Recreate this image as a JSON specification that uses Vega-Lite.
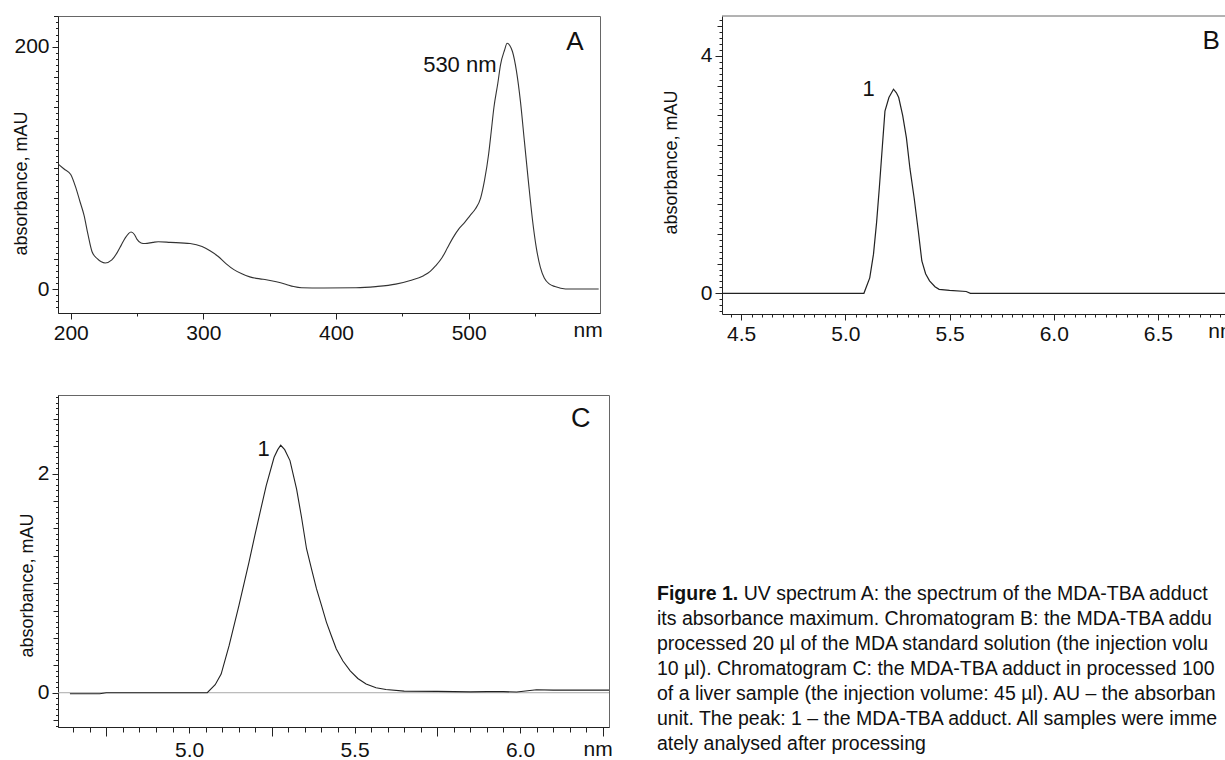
{
  "$schema": "https://vega.github.io/schema/vega-lite/v6.json",
  "background": "white",
  "padding": {"left": 11, "top": 15, "right": 0, "bottom": 0},
  "columns": 2,
  "align": "none",
  "bounds": "flush",
  "spacing": {"row": 81, "column": 113},
  "config": {
    "font": "Liberation Sans",
    "view": {"stroke": "#666", "strokeWidth": 1},
    "axis": {
      "grid": false,
      "domainColor": "#222",
      "tickColor": "#222",
      "labelColor": "#111",
      "labelFont": "Liberation Sans",
      "labelFontSize": 21,
      "labelPadding": 3,
      "labelFlush": false,
      "titleFont": "Liberation Sans",
      "titleFontWeight": "normal",
      "titleFontSize": 18,
      "titleColor": "#111"
    },
    "text": {"fill": "#111", "font": "Liberation Sans"}
  },
  "concat": [
    {
      "width": 542,
      "height": 297,
      "resolve": {"axis": {"x": "independent", "y": "independent"}},
      "layer": [
        {
          "data": {"values": [
            {"wavelength":191,"absorbance":102.7},{"wavelength":195,"absorbance":99},{"wavelength":200,"absorbance":94.5},{"wavelength":204,"absorbance":83},{"wavelength":207,"absorbance":72},{"wavelength":210,"absorbance":61},{"wavelength":213,"absorbance":45},{"wavelength":216,"absorbance":31},{"wavelength":220,"absorbance":25},{"wavelength":226,"absorbance":21.5},{"wavelength":231,"absorbance":24},{"wavelength":235,"absorbance":30},{"wavelength":238,"absorbance":36},{"wavelength":241,"absorbance":42},{"wavelength":245.5,"absorbance":47},{"wavelength":248,"absorbance":45},{"wavelength":250,"absorbance":41},{"wavelength":253,"absorbance":38},{"wavelength":256,"absorbance":37.5},{"wavelength":262,"absorbance":38.5},{"wavelength":266,"absorbance":39},{"wavelength":275,"absorbance":38.5},{"wavelength":290,"absorbance":37.5},{"wavelength":299,"absorbance":35},{"wavelength":305,"absorbance":31.5},{"wavelength":311,"absorbance":27},{"wavelength":317,"absorbance":21},{"wavelength":323,"absorbance":16},{"wavelength":329,"absorbance":12.5},{"wavelength":335,"absorbance":10},{"wavelength":345,"absorbance":8},{"wavelength":355,"absorbance":6},{"wavelength":362,"absorbance":4},{"wavelength":368,"absorbance":2},{"wavelength":374,"absorbance":1},{"wavelength":390,"absorbance":0.8},{"wavelength":415,"absorbance":1},{"wavelength":430,"absorbance":2},{"wavelength":445,"absorbance":4},{"wavelength":456,"absorbance":7},{"wavelength":466,"absorbance":11},{"wavelength":471,"absorbance":14.5},{"wavelength":475,"absorbance":19},{"wavelength":480,"absorbance":26},{"wavelength":484,"absorbance":34},{"wavelength":488,"absorbance":42},{"wavelength":492.6,"absorbance":49.6},{"wavelength":497,"absorbance":55},{"wavelength":501,"absorbance":60.6},{"wavelength":505,"absorbance":66},{"wavelength":509,"absorbance":75},{"wavelength":512,"absorbance":90},{"wavelength":515,"absorbance":111},{"wavelength":517,"absorbance":130},{"wavelength":519,"absorbance":149.6},{"wavelength":522,"absorbance":170},{"wavelength":524,"absorbance":185},{"wavelength":527,"absorbance":197},{"wavelength":529,"absorbance":202.8},{"wavelength":531,"absorbance":201},{"wavelength":533,"absorbance":196},{"wavelength":536,"absorbance":180},{"wavelength":539,"absorbance":155},{"wavelength":542,"absorbance":122},{"wavelength":545,"absorbance":89},{"wavelength":548,"absorbance":58},{"wavelength":551,"absorbance":34},{"wavelength":554,"absorbance":18},{"wavelength":557,"absorbance":9},{"wavelength":561,"absorbance":4},{"wavelength":565,"absorbance":2},{"wavelength":573,"absorbance":0},{"wavelength":598,"absorbance":0}
          ]},
          "mark": {"type": "line", "color": "#333", "strokeWidth": 1.1, "interpolate": "monotone"},
          "encoding": {
            "x": {"field": "wavelength", "type": "quantitative",
                  "scale": {"domain": [190.4, 599], "nice": false, "zero": false},
                  "axis": {"title": null, "orient": "bottom", "values": [200,300,400,500], "tickSize": 6}},
            "y": {"field": "absorbance", "type": "quantitative",
                  "scale": {"domain": [-19.8, 225.3], "nice": false, "zero": false},
                  "axis": {"title": "absorbance, mAU", "orient": "left", "titleX": -28, "titleY": 167, "values": [0, 200], "tickSize": 6}}
          }
        },
        {
          "data": {"values": [{}]},
          "mark": {"type": "text", "text": ""},
          "encoding": {
            "x": {"datum": 300, "type": "quantitative",
                  "axis": {"title": null, "orient": "bottom", "labels": false, "domain": false, "values": [250,350,450,550], "tickSize": 3}},
            "y": {"datum": 0, "type": "quantitative",
                  "axis": {"title": null, "orient": "left", "labels": false, "domain": false,
                           "values": [-15,-10,-5,5,10,15,20,25,30,35,40,45,50,55,60,65,70,75,80,85,90,95,100,105,110,115,120,125,130,135,140,145,150,155,160,165,170,175,180,185,190,195,205,210,215,220,225],
                           "tickSize": {"condition": {"test": "datum.value % 25 === 0", "value": 4.5}, "value": 2.5}}}
          }
        },
        {
          "data": {"values": [{}]},
          "mark": {"type": "text", "text": "530 nm", "align": "right", "baseline": "middle", "fontSize": 22},
          "encoding": {"x": {"datum": 521, "type": "quantitative", "axis": null}, "y": {"datum": 185, "type": "quantitative", "axis": null}}
        },
        {
          "data": {"values": [{}]},
          "mark": {"type": "text", "text": "A", "align": "center", "baseline": "middle", "fontSize": 26},
          "encoding": {"x": {"datum": 580, "type": "quantitative", "axis": null}, "y": {"datum": 204, "type": "quantitative", "axis": null}}
        },
        {
          "data": {"values": [{}]},
          "mark": {"type": "text", "text": "nm", "align": "center", "baseline": "middle", "fontSize": 21},
          "encoding": {"x": {"datum": 590, "type": "quantitative", "axis": null}, "y": {"datum": -34.5, "type": "quantitative", "axis": null}}
        }
      ]
    },
    {
      "width": 512,
      "height": 298,
      "view": {"stroke": null},
      "resolve": {"axis": {"x": "independent", "y": "independent"}},
      "layer": [
        {
          "data": {"values": [
            {"time":4.408,"absorbance":0},{"time":5.0,"absorbance":0},{"time":5.089,"absorbance":0},{"time":5.117,"absorbance":0.26},{"time":5.135,"absorbance":0.66},{"time":5.15,"absorbance":1.2},{"time":5.163,"absorbance":1.78},{"time":5.178,"absorbance":2.5},{"time":5.19,"absorbance":3.07},{"time":5.209,"absorbance":3.3},{"time":5.231,"absorbance":3.44},{"time":5.245,"absorbance":3.38},{"time":5.256,"absorbance":3.3},{"time":5.275,"absorbance":3.0},{"time":5.293,"absorbance":2.62},{"time":5.31,"absorbance":2.1},{"time":5.33,"absorbance":1.61},{"time":5.35,"absorbance":1.05},{"time":5.367,"absorbance":0.545},{"time":5.385,"absorbance":0.33},{"time":5.404,"absorbance":0.21},{"time":5.43,"absorbance":0.11},{"time":5.45,"absorbance":0.067},{"time":5.5,"absorbance":0.05},{"time":5.58,"absorbance":0.03},{"time":5.6,"absorbance":0},{"time":6.865,"absorbance":0}
          ]},
          "mark": {"type": "line", "color": "#222", "strokeWidth": 1.2},
          "encoding": {
            "x": {"field": "time", "type": "quantitative",
                  "scale": {"domain": [4.408, 6.865], "nice": false, "zero": false},
                  "axis": {"title": null, "orient": "bottom", "values": [4.5, 5, 5.5, 6, 6.5], "format": ".1f", "tickSize": 6}},
            "y": {"field": "absorbance", "type": "quantitative",
                  "scale": {"domain": [-0.349, 4.674], "nice": false, "zero": false},
                  "axis": {"title": "absorbance, mAU", "orient": "left", "titleX": -41.5, "titleY": 146, "values": [0, 4], "format": "d", "tickSize": 7}}
          }
        },
        {
          "data": {"values": [{}]},
          "mark": {"type": "text", "text": ""},
          "encoding": {
            "x": {"datum": 5, "type": "quantitative",
                  "axis": {"title": null, "orient": "bottom", "labels": false, "domain": false, "tickSize": 3,
                           "values": [4.45,4.55,4.6,4.65,4.7,4.75,4.8,4.85,4.9,4.95,5.05,5.1,5.15,5.2,5.25,5.3,5.35,5.4,5.45,5.55,5.6,5.65,5.7,5.75,5.8,5.85,5.9,5.95,6.05,6.1,6.15,6.2,6.25,6.3,6.35,6.4,6.45,6.55,6.6,6.65,6.7,6.75,6.8,6.85]}},
            "y": {"datum": 0, "type": "quantitative",
                  "axis": {"title": null, "orient": "left", "labels": false, "domain": false,
                           "values": [-0.3,-0.2,-0.1,0.1,0.2,0.3,0.4,0.5,0.6,0.7,0.8,0.9,1,1.1,1.2,1.3,1.4,1.5,1.6,1.7,1.8,1.9,2,2.1,2.2,2.3,2.4,2.5,2.6,2.7,2.8,2.9,3,3.1,3.2,3.3,3.4,3.5,3.6,3.7,3.8,3.9,4.1,4.2,4.3,4.4,4.5,4.6],
                           "tickSize": {"condition": {"test": "abs(datum.value*2 - round(datum.value*2)) < 0.001", "value": 5}, "value": 3}}}
          }
        },
        {
          "data": {"values": [{}]},
          "mark": {"type": "rule", "color": "#666", "strokeWidth": 1},
          "encoding": {"y": {"datum": 4.674, "type": "quantitative", "axis": null}}
        },
        {
          "data": {"values": [{}]},
          "mark": {"type": "text", "text": "1", "align": "center", "baseline": "middle", "fontSize": 22},
          "encoding": {"x": {"datum": 5.112, "type": "quantitative", "axis": null}, "y": {"datum": 3.44, "type": "quantitative", "axis": null}}
        },
        {
          "data": {"values": [{}]},
          "mark": {"type": "text", "text": "B", "align": "center", "baseline": "middle", "fontSize": 26},
          "encoding": {"x": {"datum": 6.756, "type": "quantitative", "axis": null}, "y": {"datum": 4.26, "type": "quantitative", "axis": null}}
        },
        {
          "data": {"values": [{}]},
          "mark": {"type": "text", "text": "nm", "align": "left", "baseline": "middle", "fontSize": 21},
          "encoding": {"x": {"datum": 6.742, "type": "quantitative", "axis": null}, "y": {"datum": -0.65, "type": "quantitative", "axis": null}}
        }
      ]
    },
    {
      "width": 551,
      "height": 332,
      "resolve": {"axis": {"x": "independent", "y": "independent"}},
      "layer": [
        {
          "data": {"values": [{}]},
          "mark": {"type": "rule", "color": "#aaa", "strokeWidth": 1},
          "encoding": {"y": {"datum": 0, "type": "quantitative", "scale": {"domain": [-0.313, 2.719], "nice": false, "zero": false}, "axis": null}}
        },
        {
          "data": {"values": [
            {"time":4.64,"absorbance":-0.01},{"time":4.73,"absorbance":-0.01},{"time":4.75,"absorbance":0},{"time":4.91,"absorbance":0},{"time":5.055,"absorbance":0},{"time":5.079,"absorbance":0.073},{"time":5.097,"absorbance":0.17},{"time":5.121,"absorbance":0.43},{"time":5.151,"absorbance":0.8},{"time":5.181,"absorbance":1.19},{"time":5.199,"absorbance":1.44},{"time":5.217,"absorbance":1.68},{"time":5.233,"absorbance":1.89},{"time":5.257,"absorbance":2.15},{"time":5.268,"absorbance":2.22},{"time":5.277,"absorbance":2.26},{"time":5.289,"absorbance":2.22},{"time":5.305,"absorbance":2.12},{"time":5.325,"absorbance":1.86},{"time":5.34,"absorbance":1.6},{"time":5.355,"absorbance":1.315},{"time":5.37,"absorbance":1.13},{"time":5.385,"absorbance":0.95},{"time":5.4,"absorbance":0.8},{"time":5.415,"absorbance":0.645},{"time":5.43,"absorbance":0.52},{"time":5.445,"absorbance":0.4},{"time":5.465,"absorbance":0.29},{"time":5.487,"absorbance":0.2},{"time":5.51,"absorbance":0.13},{"time":5.535,"absorbance":0.08},{"time":5.565,"absorbance":0.045},{"time":5.595,"absorbance":0.03},{"time":5.65,"absorbance":0.015},{"time":5.75,"absorbance":0.012},{"time":5.85,"absorbance":0.008},{"time":5.9,"absorbance":0.01},{"time":5.95,"absorbance":0.01},{"time":5.99,"absorbance":0.006},{"time":6.05,"absorbance":0.027},{"time":6.1,"absorbance":0.024},{"time":6.269,"absorbance":0.024}
          ]},
          "mark": {"type": "line", "color": "#222", "strokeWidth": 1.1},
          "encoding": {
            "x": {"field": "time", "type": "quantitative",
                  "scale": {"domain": [4.604, 6.269], "nice": false, "zero": false},
                  "axis": {"title": null, "orient": "bottom", "values": [5, 5.5, 6], "format": ".1f", "tickSize": 6, "labelPadding": 6}},
            "y": {"field": "absorbance", "type": "quantitative",
                  "axis": {"title": "absorbance, mAU", "orient": "left", "titleX": -22, "titleY": 190, "values": [0, 2], "format": "d", "tickSize": 6}}
          }
        },
        {
          "data": {"values": [{}]},
          "mark": {"type": "text", "text": ""},
          "encoding": {
            "x": {"datum": 5, "type": "quantitative",
                  "axis": {"title": null, "orient": "bottom", "labels": false, "domain": false,
                           "values": [4.65,4.7,4.75,4.8,4.85,4.9,4.95,5.05,5.1,5.15,5.2,5.25,5.3,5.35,5.4,5.45,5.55,5.6,5.65,5.7,5.75,5.8,5.85,5.9,5.95,6.05,6.1,6.15,6.2,6.25],
                           "tickSize": {"condition": {"test": "abs(datum.value*4 - round(datum.value*4)) < 0.001", "value": 9}, "value": 5}}},
            "y": {"datum": 0, "type": "quantitative",
                  "axis": {"title": null, "orient": "left", "labels": false, "domain": false,
                           "values": [-0.3,-0.25,-0.2,-0.15,-0.1,-0.05,0.05,0.1,0.15,0.2,0.25,0.3,0.35,0.4,0.45,0.5,0.55,0.6,0.65,0.7,0.75,0.8,0.85,0.9,0.95,1,1.05,1.1,1.15,1.2,1.25,1.3,1.35,1.4,1.45,1.5,1.55,1.6,1.65,1.7,1.75,1.8,1.85,1.9,1.95,2.05,2.1,2.15,2.2,2.25,2.3,2.35,2.4,2.45,2.5,2.55,2.6,2.65,2.7],
                           "tickSize": {"condition": {"test": "abs(datum.value*4 - round(datum.value*4)) < 0.001", "value": 5}, "value": 2.5}}}
          }
        },
        {
          "data": {"values": [{}]},
          "mark": {"type": "text", "text": "1", "align": "center", "baseline": "middle", "fontSize": 22},
          "encoding": {"x": {"datum": 5.225, "type": "quantitative", "axis": null}, "y": {"datum": 2.226, "type": "quantitative", "axis": null}}
        },
        {
          "data": {"values": [{}]},
          "mark": {"type": "text", "text": "C", "align": "center", "baseline": "middle", "fontSize": 27},
          "encoding": {"x": {"datum": 6.184, "type": "quantitative", "axis": null}, "y": {"datum": 2.5, "type": "quantitative", "axis": null}}
        },
        {
          "data": {"values": [{}]},
          "mark": {"type": "text", "text": "nm", "align": "center", "baseline": "middle", "fontSize": 21},
          "encoding": {"x": {"datum": 6.236, "type": "quantitative", "axis": null}, "y": {"datum": -0.52, "type": "quantitative", "axis": null}}
        }
      ]
    },
    {
      "width": 500,
      "height": 360,
      "view": {"stroke": null},
      "data": {"values": [
        {"line": 1, "part": "head", "text": "Figure 1."},
        {"line": 1, "part": "first", "text": "UV spectrum A: the spectrum of the MDA-TBA adduct and"},
        {"line": 2, "part": "body", "text": "its absorbance maximum. Chromatogram B: the MDA-TBA adduct in"},
        {"line": 3, "part": "body", "text": "processed 20 µl of the MDA standard solution (the injection volume:"},
        {"line": 4, "part": "body", "text": "10 µl). Chromatogram C: the MDA-TBA adduct in processed 100 mg"},
        {"line": 5, "part": "body", "text": "of a liver sample (the injection volume: 45 µl). AU – the absorbance"},
        {"line": 6, "part": "body", "text": "unit. The peak: 1 – the MDA-TBA adduct. All samples were immedi-"},
        {"line": 7, "part": "body", "text": "ately analysed after processing"}
      ]},
      "encoding": {
        "y": {"field": "line", "type": "quantitative", "scale": {"domain": [-6.96, 7.44], "reverse": true, "nice": false, "zero": false}, "axis": null}
      },
      "layer": [
        {
          "transform": [{"filter": "datum.part === 'head'"}],
          "mark": {"type": "text", "align": "left", "baseline": "middle", "fontSize": 19.5, "fontWeight": "bold"},
          "encoding": {
            "x": {"datum": -13, "type": "quantitative", "scale": {"domain": [0, 100], "nice": false, "zero": false}, "axis": null},
            "text": {"field": "text"}
          }
        },
        {
          "transform": [{"filter": "datum.part === 'first'"}],
          "mark": {"type": "text", "align": "left", "baseline": "middle", "fontSize": 19.5, "limit": 483, "ellipsis": " "},
          "encoding": {
            "x": {"datum": 4.34, "type": "quantitative"},
            "text": {"field": "text"}
          }
        },
        {
          "transform": [{"filter": "datum.part === 'body'"}],
          "mark": {"type": "text", "align": "left", "baseline": "middle", "fontSize": 19.5, "limit": 568, "ellipsis": " "},
          "encoding": {
            "x": {"datum": -13, "type": "quantitative"},
            "text": {"field": "text"}
          }
        }
      ]
    }
  ]
}
